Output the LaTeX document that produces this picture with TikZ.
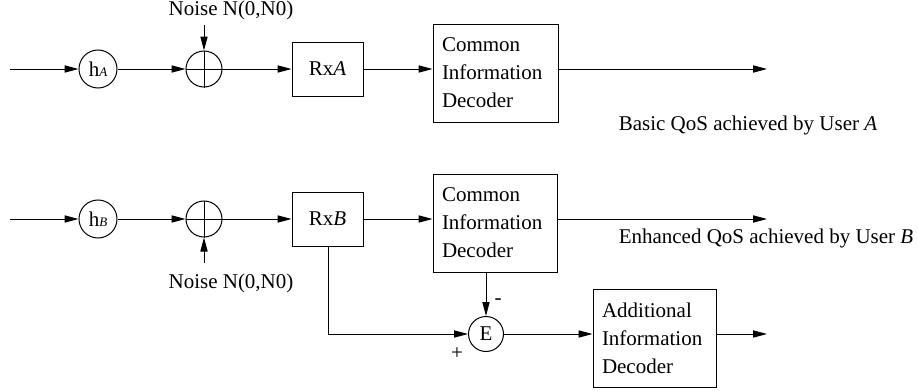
\documentclass[tikz,border=0pt]{standalone}
\usepackage{fontspec}
\setmainfont{Liberation Serif}
\usetikzlibrary{arrows.meta,calc}
\begin{document}
\begin{tikzpicture}[x=0.5pt,y=-0.5pt,
  font=\fontsize{10.5}{14}\selectfont,
  every path/.style={line width=0.5pt},
  sig/.style={-{Triangle[length=7pt,width=3.6pt]}},
  gain/.style={draw,circle,inner sep=0pt,minimum size=19pt},
  adder/.style={draw,circle,inner sep=0pt,minimum size=18pt},
  rxbox/.style={draw,rectangle,minimum width=35.5pt,minimum height=27pt,inner sep=0pt},
  decbox/.style={draw,rectangle,minimum height=49pt,inner xsep=4.5pt,inner ysep=0pt,align=left},
  lbl/.style={inner sep=0pt}]
\useasboundingbox (0,0) rectangle (918,391);

% ---- user A chain ----
\coordinate (inA) at (10,69);
\node[gain] (hA) at (98,69) {h{\fontsize{6.5}{6.5}\selectfont\itshape A}};
\node[adder] (sA) at (204,69) {};
\draw (sA.north) -- (sA.south) (sA.west) -- (sA.east);
\node[rxbox] (rxA) at (327.5,69) {Rx\textit{A}};
\node[decbox,minimum width=62.5pt,text width=53.5pt] (cdA) at (495.5,73) {Common\\Information\\Decoder};
\coordinate (outA) at (767,69);
\coordinate (nA) at (204,25);
\node[lbl] (noiseA) at (231,10) {Noise N(0,N0)};
\node[lbl] (qosA) at (748,125) {Basic QoS achieved by User \textit{A}};

\draw[sig] (inA) -- (hA);
\draw[sig] (hA) -- (sA);
\draw[sig] (nA) -- (sA.north);
\draw[sig] (sA) -- (rxA);
\draw[sig] (rxA) -- (rxA -| cdA.west);
\draw[sig] (rxA -| cdA.east) -- (outA);

% ---- user B chain ----
\coordinate (inB) at (10,219);
\node[gain] (hB) at (98,219) {h{\fontsize{6.5}{6.5}\selectfont\itshape B}};
\node[adder] (sB) at (204,219) {};
\draw (sB.north) -- (sB.south) (sB.west) -- (sB.east);
\node[rxbox] (rxB) at (327.5,219) {Rx\textit{B}};
\node[decbox,minimum width=62pt,text width=53pt] (cdB) at (495,223) {Common\\Information\\Decoder};
\coordinate (outB) at (767,219);
\coordinate (nB) at (204,263);
\node[lbl] (noiseB) at (231,283) {Noise N(0,N0)};
\node[lbl] (qosB) at (766,238) {Enhanced QoS achieved by User \textit{B}};

\draw[sig] (inB) -- (hB);
\draw[sig] (hB) -- (sB);
\draw[sig] (nB) -- (sB.south);
\draw[sig] (sB) -- (rxB);
\draw[sig] (rxB) -- (rxB -| cdB.west);
\draw[sig] (rxB -| cdB.east) -- (outB);

% ---- additional information path ----
\node[draw,circle,inner sep=0pt,minimum size=17.5pt] (err) at (486,334) {E};
\node[decbox,minimum width=61.5pt,text width=52.5pt] (adB) at (654.5,338) {Additional\\Information\\Decoder};
\coordinate (rxTap) at (328,246);
\coordinate (outC) at (767,334);
\node[lbl] (minus) at (498,302) {-};
\node[lbl] (plus) at (457,354) {+};

\draw[sig] (err |- cdB.south) -- (err.north);
\draw[sig] (rxTap) |- (err.west);
\draw[sig] (err) -- (err -| adB.west);
\draw[sig] (err -| adB.east) -- (outC);
\end{tikzpicture}
\end{document}
